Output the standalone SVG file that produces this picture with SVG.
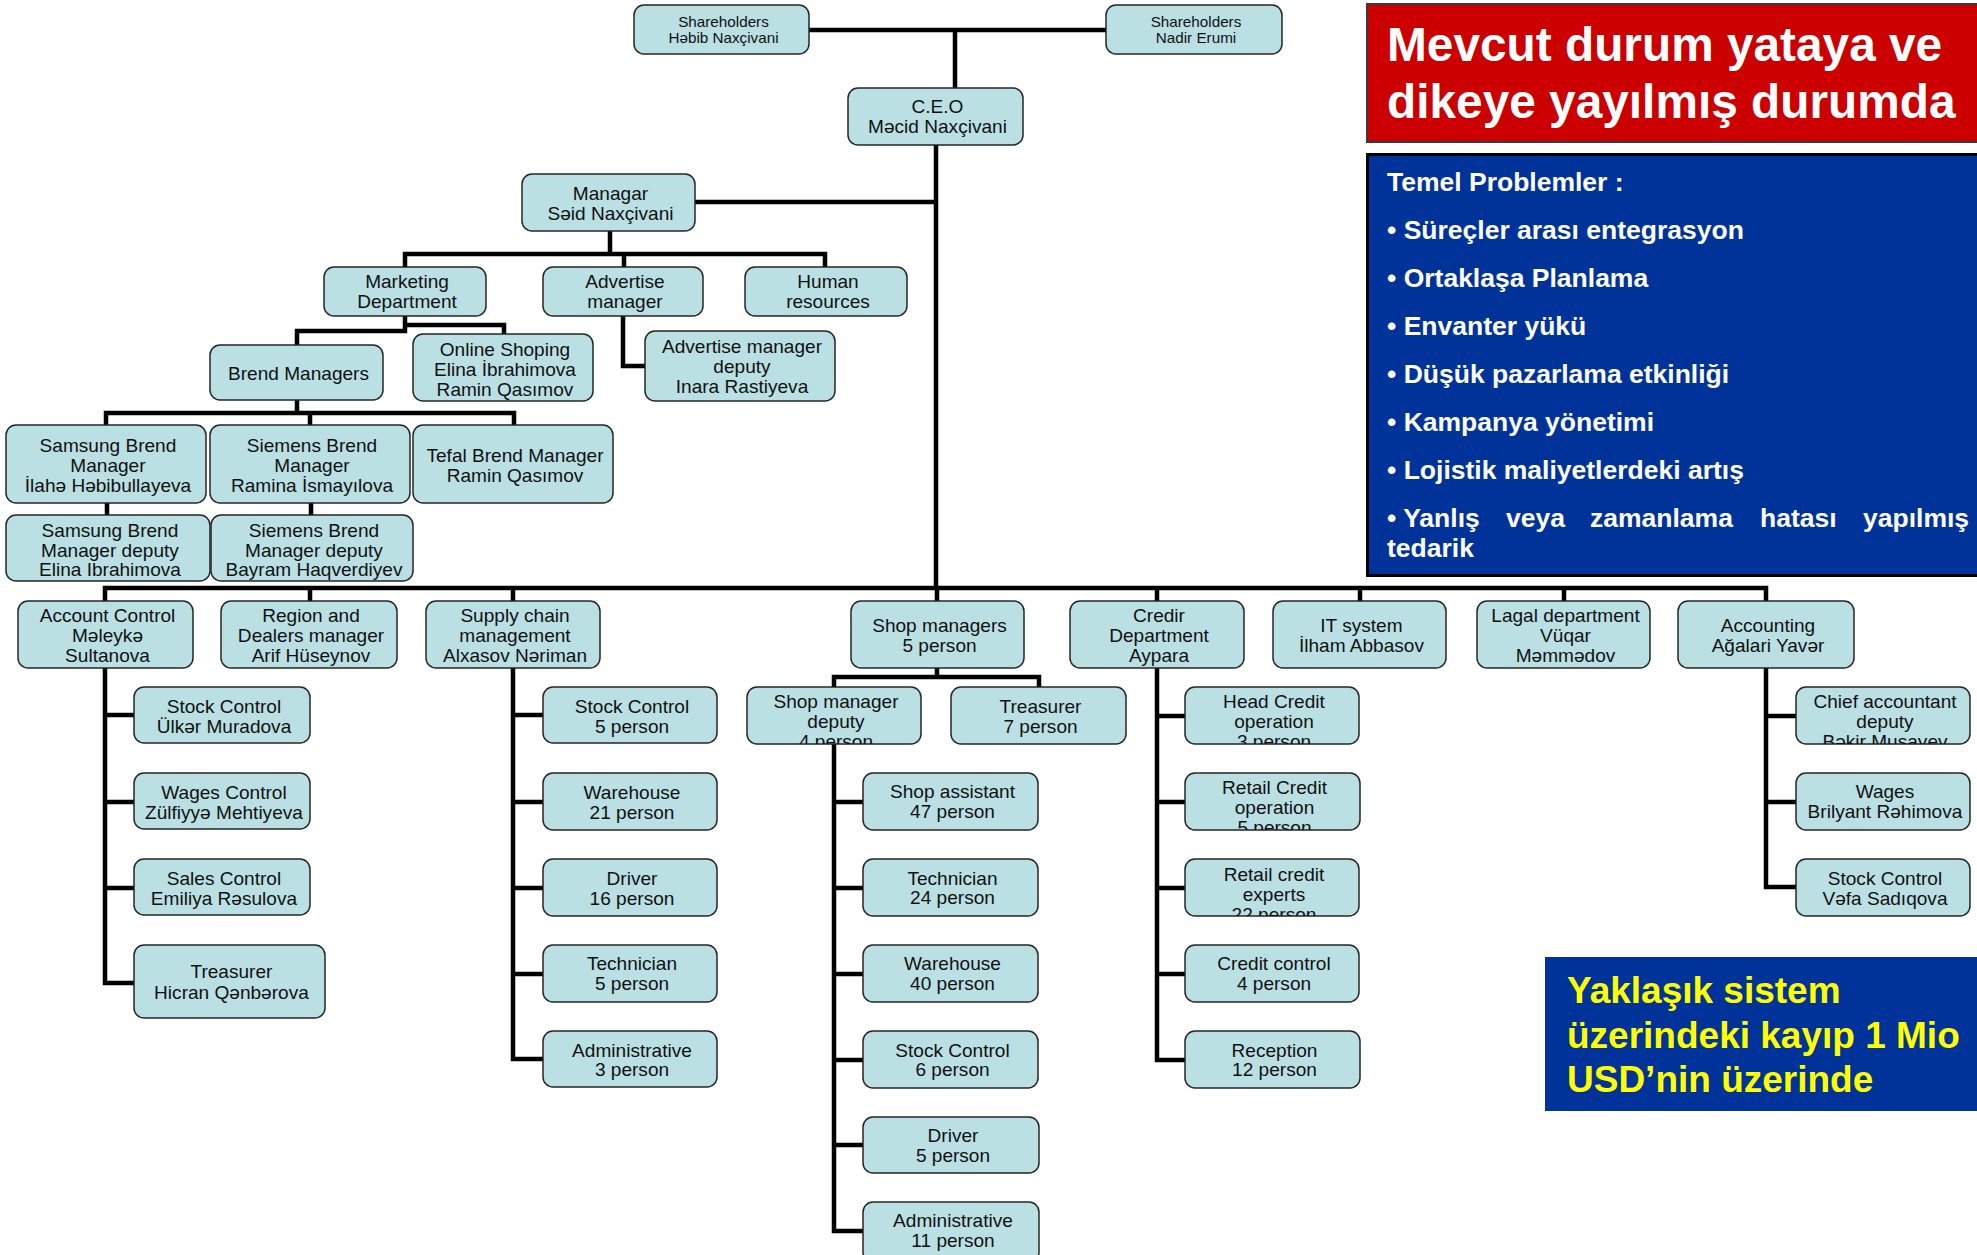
<svg xmlns="http://www.w3.org/2000/svg" width="1977" height="1255" viewBox="0 0 1977 1255">
  <style>
    .n rect { fill: #BAE0E4; stroke: #262626; stroke-width: 1.5; }
    .n text { font-family: "Liberation Sans", Arial, sans-serif; font-size: 17.5px; fill: #111; text-anchor: middle;
              transform-box: fill-box; transform-origin: center; transform: translateX(2px) scaleX(1.09); }
    .n text.sm { font-size: 14px; }
    .links path { fill: none; stroke: #000; stroke-width: 4.5; stroke-linejoin: miter; }
    .panel { font-family: "Liberation Sans", Arial, sans-serif; font-weight: bold; }
    .title { fill: #fff; font-size: 47.8px; }
    .prob { fill: #fff; font-size: 26.5px; }
    .loss { fill: #FFFF00; font-size: 37px; }
  </style>
  <defs>
    <clipPath id="c-smdep"><rect x="747" y="687" width="174" height="57" rx="10"/></clipPath>
    <clipPath id="c-crhead"><rect x="1185" y="687" width="174" height="57" rx="10"/></clipPath>
    <clipPath id="c-crretail"><rect x="1185" y="773" width="175" height="57" rx="10"/></clipPath>
    <clipPath id="c-crexp"><rect x="1185" y="859" width="174" height="57" rx="10"/></clipPath>
    <clipPath id="c-accchief"><rect x="1796" y="687" width="174" height="57" rx="10"/></clipPath>
  </defs>
  <rect width="1977" height="1255" fill="#fff"/>

  <!-- connectors -->
  <g id="connectors" class="links">
    <path d="M809,30 H1106 M955,30 V88"/>
    <path d="M936,145 V588"/>
    <path d="M695,202 H936"/>
    <path d="M610,231 V254 M405,267 V254 H825 V267 M624,254 V267"/>
    <path d="M405,316 V331 H297 V345 M405,325 H504 V334"/>
    <path d="M623,316 V366 H645"/>
    <path d="M297,400 V413 M106,425 V413 H514 V425 M310,413 V425"/>
    <path d="M107,503 V515 M311,503 V515"/>
    <path d="M105,601 V588 H1766 V601 M310,588 V601 M513,588 V601 M937,588 V601 M1157,588 V601 M1360,588 V601 M1564,588 V601"/>
    <path d="M105,668 V983 H134 M105,715 H134 M105,802 H134 M105,888 H134"/>
    <path d="M513,668 V1059 H543 M513,715 H543 M513,802 H543 M513,888 H543 M513,974 H543"/>
    <path d="M937,668 V677 M834,687 V677 H1039 V687"/>
    <path d="M834,744 V1231 H863 M834,802 H863 M834,888 H863 M834,974 H863 M834,1060 H863 M834,1145 H863"/>
    <path d="M1157,668 V1060 H1185 M1157,716 H1185 M1157,802 H1185 M1157,888 H1185 M1157,974 H1185"/>
    <path d="M1766,668 V887 H1796 M1766,716 H1796 M1766,802 H1796"/>
  </g>

  <!-- top of the chart -->
  <g id="sh1" class="n"><rect x="634" y="5" width="175" height="49" rx="10"/>
    <text class="sm" x="721.5" y="26.7">Shareholders<tspan x="721.5" y="43.3">Həbib Naxçivani</tspan></text></g>
  <g id="sh2" class="n"><rect x="1106" y="5" width="176" height="49" rx="10"/>
    <text class="sm" x="1194" y="26.7">Shareholders<tspan x="1194" y="43.3">Nadir Erumi</tspan></text></g>
  <g id="ceo" class="n"><rect x="848" y="88" width="175" height="57" rx="10"/>
    <text x="935.5" y="113.3">C.E.O<tspan x="935.5" y="133.3">Məcid Naxçivani</tspan></text></g>
  <g id="managar" class="n"><rect x="522" y="174" width="173" height="57" rx="10"/>
    <text x="608.5" y="200">Managar<tspan x="608.5" y="220">Səid Naxçivani</tspan></text></g>

  <!-- marketing branch -->
  <g id="marketing" class="n"><rect x="324" y="267" width="162" height="49" rx="10"/>
    <text x="405" y="288.5">Marketing<tspan x="405" y="308.5">Department</tspan></text></g>
  <g id="advertise" class="n"><rect x="543" y="267" width="160" height="49" rx="10"/>
    <text x="623" y="288.5">Advertise<tspan x="623" y="308.5">manager</tspan></text></g>
  <g id="hr" class="n"><rect x="745" y="267" width="162" height="49" rx="10"/>
    <text x="826" y="288.5">Human<tspan x="826" y="308.5">resources</tspan></text></g>
  <g id="brend" class="n"><rect x="210" y="345" width="173" height="55" rx="10"/>
    <text x="296.5" y="380">Brend Managers</text></g>
  <g id="online" class="n"><rect x="413" y="334" width="180" height="67" rx="10"/>
    <text x="503" y="356">Online Shoping<tspan x="503" y="376">Elina İbrahimova</tspan><tspan x="503" y="396">Ramin Qasımov</tspan></text></g>
  <g id="advdep" class="n"><rect x="645" y="331" width="190" height="70" rx="10"/>
    <text x="740" y="353.3">Advertise manager<tspan x="740" y="373.3">deputy</tspan><tspan x="740" y="393.3">Inara Rastiyeva</tspan></text></g>
  <g id="samsung" class="n"><rect x="6" y="425" width="200" height="78" rx="10"/>
    <text x="106" y="451.7">Samsung Brend<tspan x="106" y="471.7">Manager</tspan><tspan x="106" y="491.7">İlahə Həbibullayeva</tspan></text></g>
  <g id="siemens" class="n"><rect x="210" y="425" width="200" height="78" rx="10"/>
    <text x="310" y="451.7">Siemens Brend<tspan x="310" y="471.7">Manager</tspan><tspan x="310" y="491.7">Ramina İsmayılova</tspan></text></g>
  <g id="tefal" class="n"><rect x="413" y="425" width="200" height="78" rx="10"/>
    <text x="513" y="461.7">Tefal Brend Manager<tspan x="513" y="481.7">Ramin Qasımov</tspan></text></g>
  <g id="samsung-deputy" class="n"><rect x="6" y="515" width="204" height="66" rx="10"/>
    <text x="108" y="536.7">Samsung Brend<tspan x="108" y="556.7">Manager deputy</tspan><tspan x="108" y="576.5">Elina Ibrahimova</tspan></text></g>
  <g id="siemens-deputy" class="n"><rect x="211" y="515" width="202" height="66" rx="10"/>
    <text x="312" y="536.7">Siemens Brend<tspan x="312" y="556.7">Manager deputy</tspan><tspan x="312" y="576.5">Bayram Haqverdiyev</tspan></text></g>

  <!-- departments -->
  <g id="account-control" class="n"><rect x="18" y="601" width="175" height="67" rx="10"/>
    <text x="105.5" y="621.7">Account Control<tspan x="105.5" y="641.7">Məleykə</tspan><tspan x="105.5" y="661.7">Sultanova</tspan></text></g>
  <g id="region" class="n"><rect x="221" y="601" width="176" height="67" rx="10"/>
    <text x="309" y="621.7">Region and<tspan x="309" y="641.7">Dealers manager</tspan><tspan x="309" y="661.7">Arif Hüseynov</tspan></text></g>
  <g id="supply" class="n"><rect x="426" y="601" width="174" height="67" rx="10"/>
    <text x="513" y="621.7">Supply chain<tspan x="513" y="641.7">management</tspan><tspan x="513" y="661.7">Alxasov Nəriman</tspan></text></g>
  <g id="shop-managers" class="n"><rect x="851" y="601" width="173" height="67" rx="10"/>
    <text x="937.5" y="631.7">Shop managers<tspan x="937.5" y="651.7">5 person</tspan></text></g>
  <g id="credir" class="n"><rect x="1070" y="601" width="174" height="67" rx="10"/>
    <text x="1157" y="621.7">Credir<tspan x="1157" y="641.7">Department</tspan><tspan x="1157" y="661.7">Aypara</tspan></text></g>
  <g id="it" class="n"><rect x="1273" y="601" width="173" height="67" rx="10"/>
    <text x="1359.5" y="631.7">IT system<tspan x="1359.5" y="651.7">İlham Abbasov</tspan></text></g>
  <g id="legal" class="n"><rect x="1477" y="601" width="173" height="67" rx="10"/>
    <text x="1563.5" y="621.7">Lagal department<tspan x="1563.5" y="641.7">Vüqar</tspan><tspan x="1563.5" y="661.7">Məmmədov</tspan></text></g>
  <g id="accounting" class="n"><rect x="1678" y="601" width="176" height="67" rx="10"/>
    <text x="1766" y="631.7">Accounting<tspan x="1766" y="651.7">Ağalari Yavər</tspan></text></g>

  <!-- account control staff -->
  <g id="ac-stock" class="n"><rect x="134" y="687" width="176" height="56" rx="10"/>
    <text x="222" y="713.3">Stock Control<tspan x="222" y="733.3">Ülkər Muradova</tspan></text></g>
  <g id="ac-wages" class="n"><rect x="134" y="773" width="176" height="56" rx="10"/>
    <text x="222" y="799.3">Wages Control<tspan x="222" y="819.3">Zülfiyyə Mehtiyeva</tspan></text></g>
  <g id="ac-sales" class="n"><rect x="134" y="859" width="176" height="56" rx="10"/>
    <text x="222" y="885.3">Sales Control<tspan x="222" y="905.3">Emiliya Rəsulova</tspan></text></g>
  <g id="ac-treasurer" class="n"><rect x="134" y="945" width="191" height="73" rx="10"/>
    <text x="229.5" y="978.5">Treasurer<tspan x="229.5" y="999">Hicran Qənbərova</tspan></text></g>

  <!-- supply chain staff -->
  <g id="sc-stock" class="n"><rect x="543" y="687" width="174" height="56" rx="10"/>
    <text x="630" y="713.3">Stock Control<tspan x="630" y="733.3">5 person</tspan></text></g>
  <g id="sc-warehouse" class="n"><rect x="543" y="773" width="174" height="57" rx="10"/>
    <text x="630" y="799.3">Warehouse<tspan x="630" y="819.3">21 person</tspan></text></g>
  <g id="sc-driver" class="n"><rect x="543" y="859" width="174" height="57" rx="10"/>
    <text x="630" y="885.3">Driver<tspan x="630" y="905.3">16 person</tspan></text></g>
  <g id="sc-technician" class="n"><rect x="543" y="945" width="174" height="57" rx="10"/>
    <text x="630" y="970.5">Technician<tspan x="630" y="990.5">5 person</tspan></text></g>
  <g id="sc-admin" class="n"><rect x="543" y="1031" width="174" height="56" rx="10"/>
    <text x="630" y="1056.7">Administrative<tspan x="630" y="1076.5">3 person</tspan></text></g>

  <!-- shop staff -->
  <g id="sm-deputy" class="n"><rect x="747" y="687" width="174" height="57" rx="10"/>
    <g clip-path="url(#c-smdep)"><text x="834" y="708.3">Shop manager<tspan x="834" y="728.3">deputy</tspan><tspan x="834" y="748.3">4 person</tspan></text></g></g>
  <g id="sm-treasurer" class="n"><rect x="951" y="687" width="175" height="57" rx="10"/>
    <text x="1038.5" y="712.7">Treasurer<tspan x="1038.5" y="732.7">7 person</tspan></text></g>
  <g id="sd-assistant" class="n"><rect x="863" y="773" width="175" height="57" rx="10"/>
    <text x="950.5" y="798.3">Shop assistant<tspan x="950.5" y="818.3">47 person</tspan></text></g>
  <g id="sd-technician" class="n"><rect x="863" y="859" width="175" height="57" rx="10"/>
    <text x="950.5" y="885">Technician<tspan x="950.5" y="904.5">24 person</tspan></text></g>
  <g id="sd-warehouse" class="n"><rect x="863" y="945" width="175" height="57" rx="10"/>
    <text x="950.5" y="970">Warehouse<tspan x="950.5" y="990">40 person</tspan></text></g>
  <g id="sd-stock" class="n"><rect x="863" y="1031" width="175" height="57" rx="10"/>
    <text x="950.5" y="1056.7">Stock Control<tspan x="950.5" y="1076.3">6 person</tspan></text></g>
  <g id="sd-driver" class="n"><rect x="863" y="1117" width="176" height="56" rx="10"/>
    <text x="951" y="1141.7">Driver<tspan x="951" y="1161.7">5 person</tspan></text></g>
  <g id="sd-admin" class="n"><rect x="863" y="1202" width="176" height="60" rx="10"/>
    <text x="951" y="1226.7">Administrative<tspan x="951" y="1246.7">11 person</tspan></text></g>

  <!-- credit staff -->
  <g id="cr-head" class="n"><rect x="1185" y="687" width="174" height="57" rx="10"/>
    <g clip-path="url(#c-crhead)"><text x="1272" y="708.3">Head Credit<tspan x="1272" y="728.3">operation</tspan><tspan x="1272" y="748.3">3 person</tspan></text></g></g>
  <g id="cr-retail" class="n"><rect x="1185" y="773" width="175" height="57" rx="10"/>
    <g clip-path="url(#c-crretail)"><text x="1272.5" y="794.3">Retail Credit<tspan x="1272.5" y="814.3">operation</tspan><tspan x="1272.5" y="834.3">5 person</tspan></text></g></g>
  <g id="cr-experts" class="n"><rect x="1185" y="859" width="174" height="57" rx="10"/>
    <g clip-path="url(#c-crexp)"><text x="1272" y="880.7">Retail credit<tspan x="1272" y="900.7">experts</tspan><tspan x="1272" y="920.7">22 person</tspan></text></g></g>
  <g id="cr-control" class="n"><rect x="1185" y="945" width="174" height="57" rx="10"/>
    <text x="1272" y="970">Credit control<tspan x="1272" y="990">4 person</tspan></text></g>
  <g id="cr-reception" class="n"><rect x="1185" y="1031" width="175" height="57" rx="10"/>
    <text x="1272.5" y="1056.7">Reception<tspan x="1272.5" y="1076.3">12 person</tspan></text></g>

  <!-- accounting staff -->
  <g id="acc-chief" class="n"><rect x="1796" y="687" width="174" height="57" rx="10"/>
    <g clip-path="url(#c-accchief)"><text x="1883" y="708.3">Chief accountant<tspan x="1883" y="728.3">deputy</tspan><tspan x="1883" y="748.3">Bəkir Musayev</tspan></text></g></g>
  <g id="acc-wages" class="n"><rect x="1796" y="773" width="174" height="57" rx="10"/>
    <text x="1883" y="798.3">Wages<tspan x="1883" y="818.3">Brilyant Rəhimova</tspan></text></g>
  <g id="acc-stock" class="n"><rect x="1796" y="859" width="174" height="57" rx="10"/>
    <text x="1883" y="885">Stock Control<tspan x="1883" y="905">Vəfa Sadıqova</tspan></text></g>

  <!-- side panels -->
  <g id="headline" class="panel">
    <rect x="1367" y="4" width="614" height="138" fill="#CC0000" stroke="#3a3a3a" stroke-width="2"/>
    <text class="title" x="1387" y="61">Mevcut durum yataya ve</text>
    <text class="title" x="1387" y="117.5">dikeye yayılmış durumda</text>
  </g>
  <g id="problems" class="panel">
    <rect x="1367.5" y="154.5" width="614" height="421" fill="#003399" stroke="#000" stroke-width="3"/>
    <text class="prob" x="1387" y="190.5">Temel Problemler :</text>
    <text class="prob" x="1387" y="238.5">• Süreçler arası entegrasyon</text>
    <text class="prob" x="1387" y="286.5">• Ortaklaşa Planlama</text>
    <text class="prob" x="1387" y="334.5">• Envanter yükü</text>
    <text class="prob" x="1387" y="382.5">• Düşük pazarlama etkinliği</text>
    <text class="prob" x="1387" y="430.5">• Kampanya yönetimi</text>
    <text class="prob" x="1387" y="478.5">• Lojistik maliyetlerdeki artış</text>
    <text class="prob" y="526.5"><tspan x="1387">• Yanlış</tspan><tspan x="1506">veya</tspan><tspan x="1590">zamanlama</tspan><tspan x="1760">hatası</tspan><tspan x="1863">yapılmış</tspan></text>
    <text class="prob" x="1387" y="556.5">tedarik</text>
  </g>
  <g id="loss" class="panel">
    <rect x="1545" y="957" width="434" height="154" fill="#003399"/>
    <text class="loss" x="1567" y="1003">Yaklaşık sistem</text>
    <text class="loss" x="1567" y="1048">üzerindeki kayıp 1 Mio</text>
    <text class="loss" x="1567" y="1092">USD’nin üzerinde</text>
  </g>
</svg>
